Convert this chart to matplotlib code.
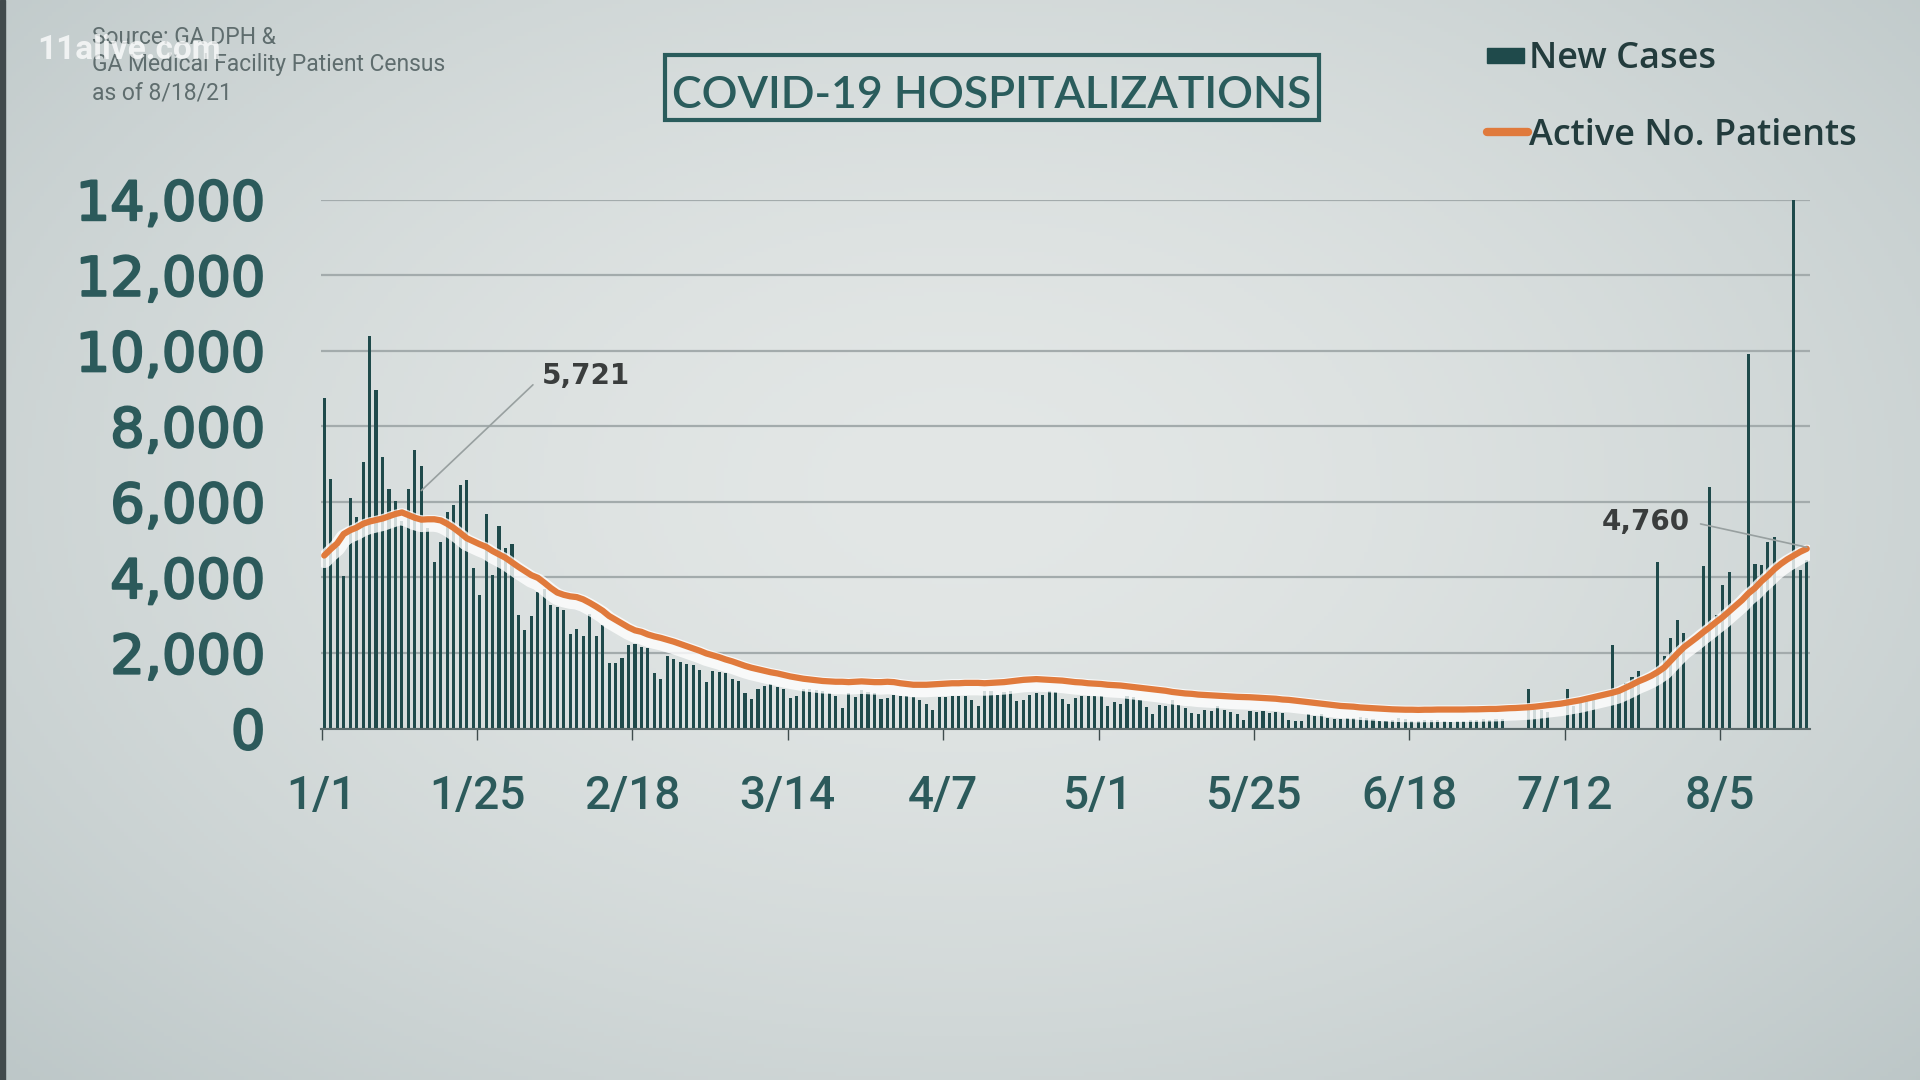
import numpy as np
import matplotlib
matplotlib.use('Agg')
import matplotlib.pyplot as plt
import matplotlib.patheffects as pe
from matplotlib.patches import Rectangle
from matplotlib.lines import Line2D

# x axis labels, one every 24 days starting 1/1/21
tick_labels = ['1/1', '1/25', '2/18', '3/14', '4/7', '5/1', '5/25', '6/18', '7/12', '8/5']
tick_days = [0, 24, 48, 72, 96, 120, 144, 168, 192, 216]

# daily new cases (bars), 1/1 .. 8/18 (0 = no report)
new_cases = [
    8740, 6610, 4800, 4040, 6090, 5590, 7050, 10400, 8960, 7190,
    6330, 6020, 5500, 6350, 7360, 6950, 5300, 4400, 4930, 5730,
    5910, 6460, 6570, 4250, 3540, 5670, 4070, 5370, 4770, 4890,
    3010, 2610, 2980, 3610, 3700, 3260, 3210, 3140, 2500, 2630,
    2460, 3030, 2450, 2740, 1730, 1740, 1860, 2210, 2240, 2160,
    2120, 1475, 1310, 1925, 1855, 1770, 1720, 1680, 1545, 1240,
    1530, 1500, 1460, 1310, 1260, 945, 780, 1060, 1130, 1190,
    1100, 1040, 820, 865, 1060, 1060, 1015, 1000, 930, 855,
    555, 930, 840, 1015, 970, 930, 795, 820, 885, 855,
    855, 840, 750, 645, 505, 840, 840, 850, 850, 850,
    765, 610, 1000, 1000, 895, 980, 1000, 720, 765, 895,
    940, 895, 1000, 980, 780, 660, 810, 850, 850, 850,
    850, 610, 695, 660, 850, 835, 765, 575, 375, 635,
    610, 765, 635, 550, 420, 375, 505, 460, 590, 505,
    445, 375, 225, 460, 435, 460, 420, 435, 420, 225,
    200, 200, 375, 330, 375, 290, 245, 260, 290, 290,
    315, 290, 260, 200, 200, 225, 290, 260, 200, 200,
    225, 225, 225, 200, 175, 200, 200, 225, 225, 245,
    225, 245, 245, 0, 0, 0, 1050, 500, 500, 450,
    0, 0, 1050, 600, 700, 750, 800, 0, 0, 2200,
    950, 1200, 1370, 1520, 0, 0, 4420, 1920, 2400, 2880,
    2520, 0, 0, 4300, 6400, 3000, 3800, 4150, 0, 0,
    9920, 4350, 4320, 4930, 5080, 0, 0, 14000, 4200, 4450,
]

# active hospitalized patients (line)
active_patients = [
    4580, 4750, 4900, 5150, 5250, 5320, 5420, 5480, 5520, 5560,
    5620, 5680, 5721, 5650, 5580, 5530, 5540, 5540, 5510, 5420,
    5310, 5180, 5040, 4960, 4880, 4810, 4700, 4610, 4520, 4400,
    4280, 4170, 4060, 3990, 3860, 3720, 3600, 3540, 3500, 3480,
    3420, 3330, 3230, 3120, 2980, 2880, 2780, 2680, 2600, 2560,
    2490, 2440, 2400, 2350, 2300, 2240, 2180, 2120, 2060, 1990,
    1940, 1890, 1830, 1780, 1720, 1660, 1610, 1570, 1530, 1490,
    1460, 1420, 1380, 1350, 1320, 1300, 1280, 1260, 1250, 1240,
    1240, 1230, 1240, 1250, 1240, 1230, 1230, 1240, 1230, 1200,
    1180, 1160, 1160, 1160, 1170, 1180, 1190, 1200, 1200, 1210,
    1210, 1210, 1200, 1210, 1220, 1230, 1250, 1270, 1290, 1300,
    1310, 1300, 1290, 1280, 1270, 1250, 1230, 1220, 1200, 1190,
    1180, 1160, 1150, 1140, 1120, 1100, 1080, 1060, 1040, 1020,
    1000, 970, 950, 930, 920, 900, 890, 880, 870, 860,
    850, 840, 835, 830, 820, 810, 800, 790, 770, 760,
    740, 720, 700, 680, 660, 640, 620, 600, 590, 580,
    560, 550, 540, 530, 520, 510, 505, 500, 500, 495,
    500, 500, 505, 505, 505, 505, 505, 510, 510, 515,
    520, 520, 530, 540, 545, 555, 565, 580, 600, 620,
    640, 660, 690, 720, 750, 790, 830, 870, 910, 950,
    1000, 1080, 1160, 1250, 1320, 1400, 1500, 1620, 1800, 1980,
    2150, 2280, 2410, 2550, 2680, 2820, 2950, 3100, 3250, 3400,
    3580, 3720, 3900, 4050, 4220, 4360, 4480, 4580, 4680, 4760,
]

days = np.arange(len(new_cases))

teal = '#1f4a4b'
orange = '#e07a3c'
label_teal = '#2c5a5b'

fig = plt.figure(figsize=(19.2, 10.8), dpi=100)

# soft vignette background
bg = fig.add_axes([0, 0, 1, 1], zorder=-10)
yy, xx = np.mgrid[0:1:270j, 0:1:480j]
r = np.sqrt(((xx - 0.5) / 0.75) ** 2 + ((yy - 0.45) / 0.85) ** 2)
c_mid = np.array([0xe3, 0xe7, 0xe6]) / 255
c_edge = np.array([0xb8, 0xc3, 0xc4]) / 255
img = c_mid + (c_edge - c_mid) * (np.clip(r, 0, 1) ** 1.6)[..., None]
bg.imshow(img, aspect='auto', extent=[0, 1, 0, 1], origin='upper')
bg.add_patch(Rectangle((0, 0), 5 / 1920, 1, color='#414a4c'))
bg.set_xlim(0, 1)
bg.set_ylim(0, 1)
bg.axis('off')

ax = fig.add_axes([321 / 1920, 1 - 728.6 / 1080, 1489 / 1920, 529 / 1080])
ax.patch.set_alpha(0)

ax.bar(days, new_cases, width=0.48, color=teal, zorder=2)
ax.plot(days, active_patients, color=orange, lw=4.5, zorder=3,
        solid_capstyle='round',
        path_effects=[pe.Stroke(offset=(0, -3), linewidth=12, foreground='white', alpha=0.8),
                      pe.Normal()])

ax.set_xlim(-0.5, 229.5)
ax.set_ylim(0, 14000)
yt = list(range(0, 14001, 2000))
ax.set_yticks(yt)
ax.set_yticklabels([f'{v:,}' for v in yt], fontsize=39, color=label_teal,
                   family='DejaVu Sans')
for t in ax.get_yticklabels():
    t.set_path_effects([pe.withStroke(linewidth=1.6, foreground=label_teal)])
ax.tick_params(axis='y', length=0, pad=40)
ax.yaxis.grid(True, color='#a3abac', lw=1.6)
ax.set_axisbelow(True)

ax.set_xticks([d - 0.4 for d in tick_days])
ax.set_xticklabels(tick_labels, fontsize=33, color=label_teal,
                   family=['Roboto', 'DejaVu Sans'], fontweight='medium')
ax.tick_params(axis='x', length=8, width=1, color='#3f4c4d', pad=25)

for s in ['top', 'right', 'left']:
    ax.spines[s].set_visible(False)
ax.spines['bottom'].set_color('#5b6a6b')
ax.spines['bottom'].set_linewidth(1.5)

# callouts
ax.annotate('5,721', xy=(15, 6300), xytext=(33.6, 9320), ha='left', va='center',
            fontsize=20, fontweight='bold', color='#3a3d3d', family='DejaVu Sans',
            arrowprops=dict(arrowstyle='-', color='#98a0a0', lw=1.2,
                            relpos=(0, 0.5), shrinkA=6, shrinkB=0))
ax.annotate('4,760', xy=(229, 4800), xytext=(197.3, 5480), ha='left', va='center',
            fontsize=20, fontweight='bold', color='#3a3d3d', family='DejaVu Sans',
            arrowprops=dict(arrowstyle='-', color='#98a0a0', lw=1.2,
                            relpos=(1, 0.5), shrinkA=6, shrinkB=0))

# title box
fig.patches.append(Rectangle((665 / 1920, 1 - 120 / 1080), 654 / 1920, 65 / 1080,
                             transform=fig.transFigure, fill=False,
                             edgecolor='#2a5c5c', lw=3))
fig.text(992 / 1920, 1 - 96 / 1080, 'COVID-19 HOSPITALIZATIONS', ha='center', va='center',
         fontsize=32, color='#2a5c5c', family=['Lato', 'DejaVu Sans'], fontweight='semibold')

# source note + watermark
src = ['Source: GA DPH &', 'GA Medical Facility Patient Census', 'as of 8/18/21']
for i, line in enumerate(src):
    fig.text(92 / 1920, 1 - (37 + 28 * i) / 1080, line, ha='left', va='center',
             fontsize=16.5, color='#5f6d6e', family=['Roboto', 'DejaVu Sans'])
fig.text(37 / 1920, 1 - 50 / 1080, '11alive.com', ha='left', va='center',
         fontsize=24, fontweight='bold', color='white', alpha=0.75,
         family=['Roboto', 'DejaVu Sans'])

# legend
fig.patches.append(Rectangle((1487 / 1920, 1 - 63 / 1080), 37 / 1920, 15 / 1080,
                             transform=fig.transFigure, color=teal))
fig.text(1529 / 1920, 1 - 59 / 1080, 'New Cases', ha='left', va='center',
         fontsize=26, color='#233c3d', family=['Open Sans', 'DejaVu Sans'], fontweight='semibold')
fig.lines.append(Line2D([1487 / 1920, 1528 / 1920], [1 - 132 / 1080] * 2,
                        transform=fig.transFigure, color=orange, lw=6,
                        solid_capstyle='round'))
fig.text(1529 / 1920, 1 - 136 / 1080, 'Active No. Patients', ha='left', va='center',
         fontsize=26, color='#233c3d', family=['Open Sans', 'DejaVu Sans'], fontweight='semibold')

fig.savefig('out.png', dpi=100)
